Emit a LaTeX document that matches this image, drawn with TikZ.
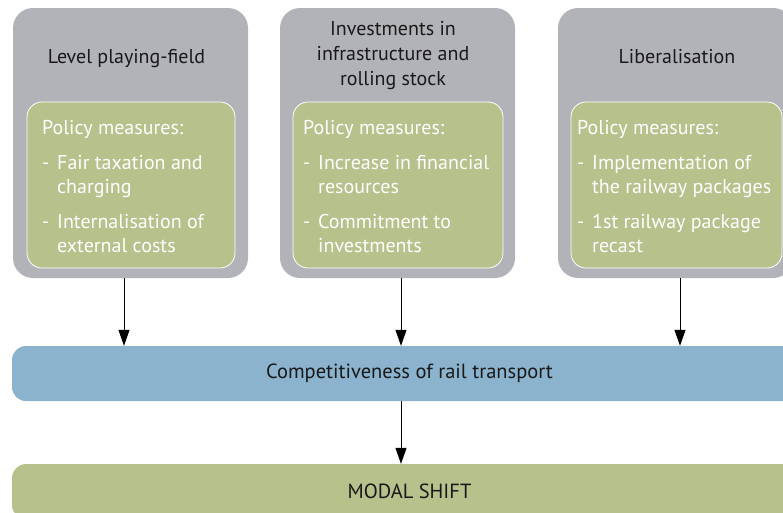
\documentclass[tikz,border=0pt]{standalone}
\usepackage{fontspec}
\setmainfont{PT Sans}
\usetikzlibrary{arrows.meta}
\definecolor{boxgrey}{RGB}{178,179,184}
\definecolor{polgreen}{RGB}{183,193,140}
\definecolor{railblue}{RGB}{139,179,205}
\newcommand{\itm}{\makebox[15pt][l]{-}}
\newcommand{\cnt}{\hspace*{15pt}}

\begin{document}
\begin{tikzpicture}[x=1pt, y=-1pt,
    pillar/.style={fill=boxgrey, rounded corners=20pt, minimum width=235pt, minimum height=270pt, inner sep=0pt},
    measures/.style={fill=polgreen, draw=white, line width=0.8pt, rounded corners=15pt, minimum height=166pt, inner sep=0pt},
    title/.style={align=center, anchor=base, inner sep=0pt, text=black!90, font=\fontsize{20}{25}\selectfont},
    mtext/.style={align=left, anchor=base west, inner sep=0pt, text=white, font=\fontsize{20}{24}\selectfont},
    bar/.style={rounded corners=14pt, minimum width=795pt, minimum height=55pt, inner sep=0pt, text=black!90, font=\fontsize{20.5}{24}\selectfont},
    arr/.style={line width=1pt, -{Triangle[length=16pt,width=11pt]}}]
  \useasboundingbox (0,0) rectangle (783,512);
  \clip (0,0) rectangle (783,512);

  \node[pillar] (g1) at (130.5,143) {};
  \node[pillar] (g2) at (397.5,143) {};
  \node[pillar] (g3) at (675.5,143) {};

  \node[title] (t1) at (126.5,63) {Level playing-field};
  \node[title] (t2) at (393,85) {Investments in\\infrastructure and\\rolling stock};
  \node[title] (t3) at (677,63) {Liberalisation};

  \node[measures, minimum width=208pt] (m1) at (131,185) {};
  \node[measures, minimum width=210pt] (m2) at (398,185) {};
  \node[measures, minimum width=211pt] (m3) at (676.5,185) {};

  \node[mtext] (p1) at (42,252) {Policy measures:\\[11pt]\itm Fair taxation and\\\cnt charging\\[11pt]\itm Internalisation of\\\cnt external costs};
  \node[mtext] (p2) at (303,252) {Policy measures:\\[11pt]\itm Increase in financial\\\cnt resources\\[11pt]\itm Commitment to\\\cnt investments};
  \node[mtext] (p3) at (577,252) {Policy measures:\\[11pt]\itm Implementation of\\\cnt the railway packages\\[11pt]\itm 1st railway package\\\cnt recast};

  \node[bar, fill=railblue] (comp) at (409.5,373.5) {Competitiveness of rail transport};
  \node[bar, fill=polgreen] (modal) at (409.5,491.5) {MODAL SHIFT};

  \coordinate (c1) at ([xshift=-6.5]g1.south);
  \coordinate (c2) at ([xshift=3.5]g2.south);
  \coordinate (c3) at ([xshift=4.5]g3.south);
  \draw[arr] (c1) -- (c1 |- comp.north);
  \draw[arr] (c2) -- (c2 |- comp.north);
  \draw[arr] (c3) -- (c3 |- comp.north);
  \draw[arr] (c2 |- comp.south) -- (c2 |- modal.north);
  %\draw (comp.west) -- (comp.east);
\end{tikzpicture}
\end{document}
